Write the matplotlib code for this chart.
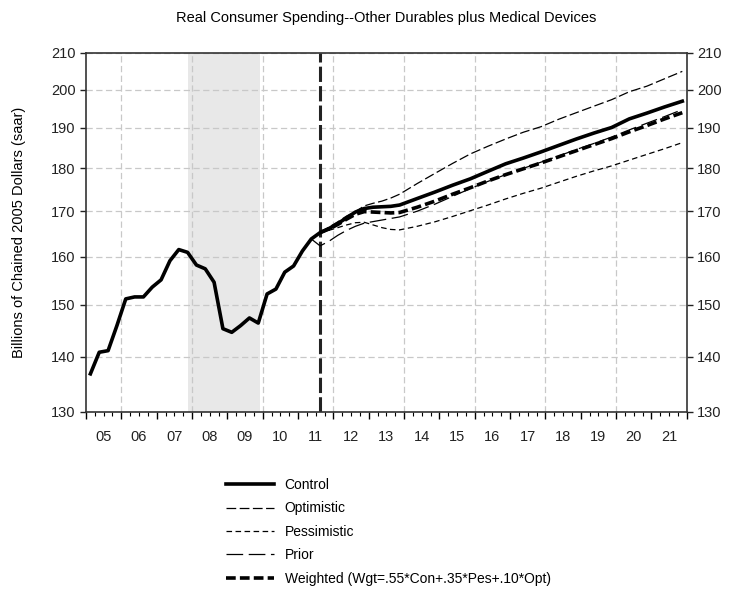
import matplotlib
matplotlib.use("Agg")
import matplotlib.pyplot as plt
from matplotlib.lines import Line2D
from matplotlib.ticker import FixedLocator, NullFormatter, NullLocator

plt.rcParams['font.family'] = ['Liberation Sans Narrow', 'Liberation Sans', 'DejaVu Sans']
plt.rcParams['lines.scale_dashes'] = False

TITLE = "Real Consumer Spending--Other Durables plus Medical Devices"
YLABEL = "Billions of Chained 2005 Dollars (saar)"

# history, quarterly from 2005Q1
HIST_START = (2005, 1)
hist_values = [136.8, 140.8, 141.1, 145.9, 151.2, 151.6, 151.6, 153.6,
               155.1, 159.1, 161.5, 160.9, 158.2, 157.4, 154.6, 145.3,
               144.6, 145.9, 147.4, 146.4, 152.2, 153.2, 156.7, 158.0,
               161.2, 163.8, 165.2, 166.1]

# scenarios
fc_quarters = ["2011Q3", "2011Q4", "2012Q1", "2012Q2", "2012Q3", "2012Q4",
               "2013Q1", "2013Q2", "2013Q3", "2013Q4",
               "2014Q2", "2014Q4", "2015Q2", "2015Q4", "2016Q2", "2016Q4",
               "2017Q2", "2017Q4", "2018Q2", "2018Q4", "2019Q2", "2019Q4",
               "2020Q2", "2020Q4", "2021Q2", "2021Q4"]
control_fc = [165.2, 166.1, 167.2, 168.5, 169.8, 170.6, 170.9, 171.0, 171.1, 171.4,
              172.9, 174.4, 176.0, 177.5, 179.3, 181.1, 182.5, 184.0, 185.6, 187.2,
              188.7, 190.1, 192.3, 193.8, 195.4, 196.9]
optimistic = [165.2, 166.4, 167.6, 168.9, 169.9, 171.2, 171.8, 172.3, 173.0, 173.9,
              176.4, 178.8, 181.2, 183.5, 185.4, 187.2, 188.9, 190.3, 192.2, 193.9,
              195.6, 197.3, 199.4, 200.9, 202.9, 204.9]
pessimistic = [165.2, 165.7, 166.3, 166.9, 167.4, 167.5, 166.9, 166.3, 165.9, 165.8,
               166.6, 167.6, 168.8, 170.1, 171.4, 172.8, 174.1, 175.3, 176.7, 178.1,
               179.4, 180.6, 182.0, 183.4, 184.8, 186.3]
weighted = [165.2, 166.0, 167.0, 168.2, 169.3, 169.9, 169.8, 169.7, 169.6, 169.7,
            170.9, 172.3, 173.9, 175.4, 177.0, 178.5, 179.9, 181.3, 182.8, 184.3,
            185.8, 187.3, 189.0, 190.6, 192.3, 193.9]

prior_quarters = ["2011Q2", "2011Q3", "2011Q4", "2012Q1", "2012Q2", "2012Q3", "2012Q4",
                  "2013Q2", "2013Q4",
                  "2014Q2", "2014Q4", "2015Q2", "2015Q4", "2016Q2", "2016Q4",
                  "2017Q2", "2017Q4", "2018Q2", "2018Q4", "2019Q2", "2019Q4",
                  "2020Q2", "2020Q4", "2021Q2", "2021Q4"]
prior = [163.8, 162.3, 163.3, 164.6, 165.7, 166.6, 167.3, 168.0, 168.7,
         170.0, 171.6, 173.4, 175.2, 176.9, 178.5, 180.0, 181.5, 183.0, 184.6,
         186.1, 187.7, 189.5, 191.2, 192.9, 194.7]

RECESSION = ("2007Q4", "2009Q4")
LAST_ACTUAL = "2011Q3"

years = list(range(2005, 2022))
year_labels = ["%02d" % (y % 100) for y in years]
y_ticks = [130, 140, 150, 160, 170, 180, 190, 200, 210]
grid_years = [2006, 2008, 2010, 2012, 2014, 2016, 2018, 2020]


def qpos(q):
    """Quarter string -> decimal year at the middle of the quarter."""
    yr, n = q.split("Q")
    return int(yr) + (int(n) - 0.5) / 4


hist_x = [HIST_START[0] + (HIST_START[1] - 1 + i + 0.5) / 4 for i in range(len(hist_values))]
fc_x = [qpos(q) for q in fc_quarters]
prior_x = [qpos(q) for q in prior_quarters]

# control = history followed by its forecast
ctrl_x = hist_x + [x for x in fc_x if x > hist_x[-1]]
ctrl_y = hist_values + [v for x, v in zip(fc_x, control_fc) if x > hist_x[-1]]

fig = plt.figure(figsize=(7.3, 5.9), dpi=100)
ax = fig.add_axes([0.1178, 0.3017, 0.8229, 0.6085])

ax.set_yscale('log')
ax.set_ylim(130, 210)
ax.set_xlim(2005, 2022)

grid_col = '#c8c8c8'
ax.axvspan(qpos(RECESSION[0]), qpos(RECESSION[1]) + 0.05, color='#e8e8e8', lw=0, zorder=0)
for v in y_ticks:
    ax.axhline(v, color=grid_col, lw=0.9, dashes=(4.5, 2.5), zorder=1)
for g in grid_years:
    ax.axvline(g, color=grid_col, lw=0.9, dashes=(4.5, 2.5), zorder=1)

ax.axvline(qpos(LAST_ACTUAL), color='#222222', lw=2.2, dashes=(11, 3), zorder=2)

ax.plot(prior_x, prior, color='black', lw=0.9, dashes=(12, 4), zorder=3)
ax.plot(fc_x, pessimistic, color='black', lw=0.9, dashes=(4, 2.5), zorder=3)
ax.plot(fc_x, optimistic, color='black', lw=0.9, dashes=(7, 2.5), zorder=3)
ax.plot(fc_x, weighted, color='black', lw=2.6, dashes=(7, 3), zorder=4)
ax.plot(ctrl_x, ctrl_y, color='black', lw=2.6, zorder=5)

# y axis on both sides
ax.yaxis.set_major_locator(FixedLocator(y_ticks))
ax.yaxis.set_minor_locator(NullLocator())
ax.yaxis.set_minor_formatter(NullFormatter())
ax.set_yticks(y_ticks, [str(v) for v in y_ticks])
ax.tick_params(axis='y', direction='out', length=4, width=1, labelsize=10.5,
               right=True, labelright=True, colors='#222222')

# x axis: year ticks, quarter minor ticks, labels mid-year
ax.set_xticks(list(range(2005, 2023)))
ax.set_xticks([y + q / 4 for y in range(2005, 2022) for q in (1, 2, 3)], minor=True)
ax.tick_params(axis='x', which='major', direction='out', length=5, width=1, labelbottom=False)
ax.tick_params(axis='x', which='minor', direction='out', length=3, width=0.8)
sec = ax.secondary_xaxis('bottom')
sec.set_xticks([y + 0.5 for y in years], year_labels)
sec.tick_params(length=0, pad=13, labelsize=10.5, colors='#222222')
sec.spines['bottom'].set_visible(False)

for s in ax.spines.values():
    s.set_color('#333333')
    s.set_linewidth(1.2)

ax.set_title(TITLE, fontsize=10.5, pad=22)
ax.set_ylabel(YLABEL, fontsize=10.5)
ax.yaxis.set_label_coords(-0.1, 0.5)

handles = [
    Line2D([], [], color='black', lw=2.6),
    Line2D([], [], color='black', lw=0.9, dashes=(7, 2.5)),
    Line2D([], [], color='black', lw=0.9, dashes=(4, 2.5)),
    Line2D([], [], color='black', lw=0.9, dashes=(12, 4)),
    Line2D([], [], color='black', lw=2.6, dashes=(7, 3)),
]
labels = ["Control", "Optimistic", "Pessimistic", "Prior",
          "Weighted (Wgt=.55*Con+.35*Pes+.10*Opt)"]
fig.legend(handles, labels, loc='upper left', bbox_to_anchor=(0.31, 1 - 478 / 590),
           frameon=False, fontsize=10, handlelength=3.4, handletextpad=0.8,
           labelspacing=0.68, borderpad=0, borderaxespad=0)

fig.savefig("out.png", dpi=100)
